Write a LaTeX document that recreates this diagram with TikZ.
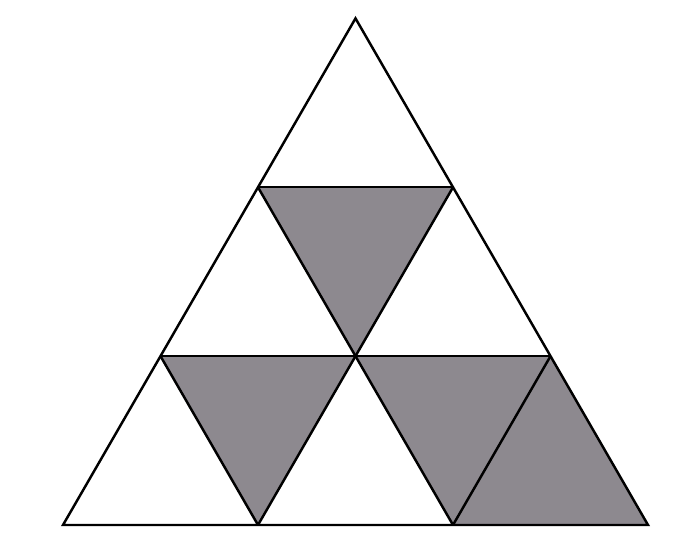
\documentclass[tikz,border=0pt]{standalone}
\usepackage{tikz}
\definecolor{shadegray}{RGB}{141,137,143}

\begin{document}
\begin{tikzpicture}[x=1cm,y=1cm,
  shaded/.style={fill=shadegray},
  edge/.style={line width=1.4pt, line join=miter}]
\useasboundingbox (0,0) rectangle (13.58,11.12);

% grid points P<row><index>
\foreach \j in {0,...,3}{
  \pgfmathtruncatemacro{\n}{3-\j}
  \foreach \i in {0,...,\n}{
    \coordinate (P\j\i) at ({1.26+3.9*\i+1.95*\j},{0.62+3.3775*\j});
  }
}

% shaded triangles
\fill[shaded] (P20) -- (P21) -- (P11) -- cycle;
\fill[shaded] (P10) -- (P11) -- (P01) -- cycle;
\fill[shaded] (P11) -- (P12) -- (P02) -- cycle;
\fill[shaded] (P02) -- (P03) -- (P12) -- cycle;

% outline and inner lines
\draw[edge] (P00) -- (P03) -- (P30) -- cycle;
\draw[edge] (P10) -- (P12);
\draw[edge] (P20) -- (P21);
\draw[edge] (P01) -- (P21);
\draw[edge] (P02) -- (P12);
\draw[edge] (P02) -- (P20);
\draw[edge] (P01) -- (P10);
\end{tikzpicture}
\end{document}
